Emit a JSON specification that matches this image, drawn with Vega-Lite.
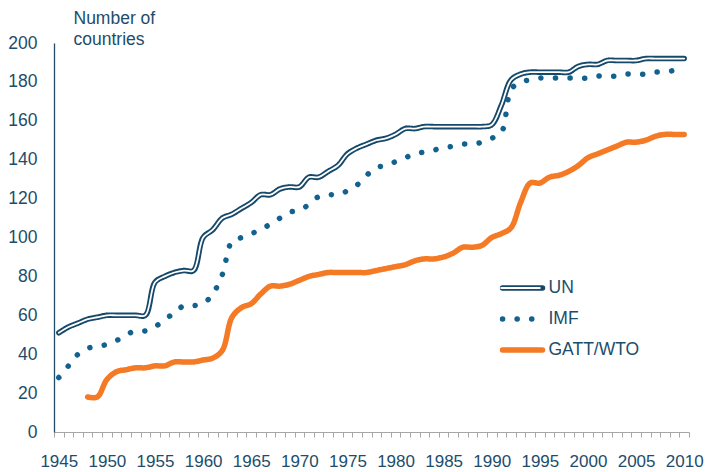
{
  "$schema": "https://vega.github.io/schema/vega-lite/v6.json",
  "width": 635,
  "height": 389,
  "autosize": {"type": "none"},
  "padding": {"left": 54, "top": 43, "right": 16, "bottom": 40},
  "background": "white",
  "config": {
    "view": {"stroke": null},
    "font": "Liberation Sans",
    "legend": {"padding": 0}
  },
  "datasets": {
    "members": [
      {"year":1945,"series":"UN","value":51},{"year":1946,"series":"UN","value":54},{"year":1947,"series":"UN","value":56},{"year":1948,"series":"UN","value":58},{"year":1949,"series":"UN","value":59},
      {"year":1950,"series":"UN","value":60},{"year":1951,"series":"UN","value":60},{"year":1952,"series":"UN","value":60},{"year":1953,"series":"UN","value":60},{"year":1954,"series":"UN","value":60},
      {"year":1955,"series":"UN","value":77},{"year":1956,"series":"UN","value":80},{"year":1957,"series":"UN","value":82},{"year":1958,"series":"UN","value":83},{"year":1959,"series":"UN","value":83},
      {"year":1960,"series":"UN","value":100},{"year":1961,"series":"UN","value":104},{"year":1962,"series":"UN","value":110},{"year":1963,"series":"UN","value":112},{"year":1964,"series":"UN","value":115},
      {"year":1965,"series":"UN","value":118},{"year":1966,"series":"UN","value":122},{"year":1967,"series":"UN","value":122},{"year":1968,"series":"UN","value":125},{"year":1969,"series":"UN","value":126},
      {"year":1970,"series":"UN","value":126},{"year":1971,"series":"UN","value":131},{"year":1972,"series":"UN","value":131},{"year":1973,"series":"UN","value":134},{"year":1974,"series":"UN","value":137},
      {"year":1975,"series":"UN","value":143},{"year":1976,"series":"UN","value":146},{"year":1977,"series":"UN","value":148},{"year":1978,"series":"UN","value":150},{"year":1979,"series":"UN","value":151},
      {"year":1980,"series":"UN","value":153},{"year":1981,"series":"UN","value":156},{"year":1982,"series":"UN","value":156},{"year":1983,"series":"UN","value":157},{"year":1984,"series":"UN","value":157},
      {"year":1985,"series":"UN","value":157},{"year":1986,"series":"UN","value":157},{"year":1987,"series":"UN","value":157},{"year":1988,"series":"UN","value":157},{"year":1989,"series":"UN","value":157},
      {"year":1990,"series":"UN","value":158},{"year":1991,"series":"UN","value":168},{"year":1992,"series":"UN","value":181},{"year":1993,"series":"UN","value":184},{"year":1994,"series":"UN","value":185},
      {"year":1995,"series":"UN","value":185},{"year":1996,"series":"UN","value":185},{"year":1997,"series":"UN","value":185},{"year":1998,"series":"UN","value":185},{"year":1999,"series":"UN","value":188},
      {"year":2000,"series":"UN","value":189},{"year":2001,"series":"UN","value":189},{"year":2002,"series":"UN","value":191},{"year":2003,"series":"UN","value":191},{"year":2004,"series":"UN","value":191},
      {"year":2005,"series":"UN","value":191},{"year":2006,"series":"UN","value":192},{"year":2007,"series":"UN","value":192},{"year":2008,"series":"UN","value":192},{"year":2009,"series":"UN","value":192},
      {"year":2010,"series":"UN","value":192},

      {"year":1945,"series":"IMF","value":28},{"year":1946,"series":"IMF","value":34},{"year":1947,"series":"IMF","value":40},{"year":1948,"series":"IMF","value":43},{"year":1949,"series":"IMF","value":44},
      {"year":1950,"series":"IMF","value":45},{"year":1951,"series":"IMF","value":47},{"year":1952,"series":"IMF","value":50},{"year":1953,"series":"IMF","value":52},{"year":1954,"series":"IMF","value":52},
      {"year":1955,"series":"IMF","value":54},{"year":1956,"series":"IMF","value":58},{"year":1957,"series":"IMF","value":61},{"year":1958,"series":"IMF","value":65},{"year":1959,"series":"IMF","value":65},
      {"year":1960,"series":"IMF","value":66},{"year":1961,"series":"IMF","value":71},{"year":1962,"series":"IMF","value":81},{"year":1963,"series":"IMF","value":98},{"year":1964,"series":"IMF","value":100},
      {"year":1965,"series":"IMF","value":102},{"year":1966,"series":"IMF","value":104},{"year":1967,"series":"IMF","value":107},{"year":1968,"series":"IMF","value":110},{"year":1969,"series":"IMF","value":113},
      {"year":1970,"series":"IMF","value":114},{"year":1971,"series":"IMF","value":117},{"year":1972,"series":"IMF","value":121},{"year":1973,"series":"IMF","value":122},{"year":1974,"series":"IMF","value":122},
      {"year":1975,"series":"IMF","value":124},{"year":1976,"series":"IMF","value":127},{"year":1977,"series":"IMF","value":132},{"year":1978,"series":"IMF","value":136},{"year":1979,"series":"IMF","value":137},
      {"year":1980,"series":"IMF","value":139},{"year":1981,"series":"IMF","value":141},{"year":1982,"series":"IMF","value":143},{"year":1983,"series":"IMF","value":144},{"year":1984,"series":"IMF","value":145},
      {"year":1985,"series":"IMF","value":146},{"year":1986,"series":"IMF","value":147},{"year":1987,"series":"IMF","value":148},{"year":1988,"series":"IMF","value":148},{"year":1989,"series":"IMF","value":149},
      {"year":1990,"series":"IMF","value":151},{"year":1991,"series":"IMF","value":154},{"year":1992,"series":"IMF","value":176},{"year":1993,"series":"IMF","value":180},{"year":1994,"series":"IMF","value":181},
      {"year":1995,"series":"IMF","value":182},{"year":1996,"series":"IMF","value":182},{"year":1997,"series":"IMF","value":182},{"year":1998,"series":"IMF","value":182},{"year":1999,"series":"IMF","value":182},
      {"year":2000,"series":"IMF","value":182},{"year":2001,"series":"IMF","value":183},{"year":2002,"series":"IMF","value":183},{"year":2003,"series":"IMF","value":183},{"year":2004,"series":"IMF","value":184},
      {"year":2005,"series":"IMF","value":184},{"year":2006,"series":"IMF","value":184},{"year":2007,"series":"IMF","value":185},{"year":2008,"series":"IMF","value":185},{"year":2009,"series":"IMF","value":186},

      {"year":1948,"series":"GATT/WTO","value":18},{"year":1949,"series":"GATT/WTO","value":18},
      {"year":1950,"series":"GATT/WTO","value":27},{"year":1951,"series":"GATT/WTO","value":31},{"year":1952,"series":"GATT/WTO","value":32},{"year":1953,"series":"GATT/WTO","value":33},{"year":1954,"series":"GATT/WTO","value":33},
      {"year":1955,"series":"GATT/WTO","value":34},{"year":1956,"series":"GATT/WTO","value":34},{"year":1957,"series":"GATT/WTO","value":36},{"year":1958,"series":"GATT/WTO","value":36},{"year":1959,"series":"GATT/WTO","value":36},
      {"year":1960,"series":"GATT/WTO","value":37},{"year":1961,"series":"GATT/WTO","value":38},{"year":1962,"series":"GATT/WTO","value":42},{"year":1963,"series":"GATT/WTO","value":59},{"year":1964,"series":"GATT/WTO","value":64},
      {"year":1965,"series":"GATT/WTO","value":66},{"year":1966,"series":"GATT/WTO","value":71},{"year":1967,"series":"GATT/WTO","value":75},{"year":1968,"series":"GATT/WTO","value":75},{"year":1969,"series":"GATT/WTO","value":76},
      {"year":1970,"series":"GATT/WTO","value":78},{"year":1971,"series":"GATT/WTO","value":80},{"year":1972,"series":"GATT/WTO","value":81},{"year":1973,"series":"GATT/WTO","value":82},{"year":1974,"series":"GATT/WTO","value":82},
      {"year":1975,"series":"GATT/WTO","value":82},{"year":1976,"series":"GATT/WTO","value":82},{"year":1977,"series":"GATT/WTO","value":82},{"year":1978,"series":"GATT/WTO","value":83},{"year":1979,"series":"GATT/WTO","value":84},
      {"year":1980,"series":"GATT/WTO","value":85},{"year":1981,"series":"GATT/WTO","value":86},{"year":1982,"series":"GATT/WTO","value":88},{"year":1983,"series":"GATT/WTO","value":89},{"year":1984,"series":"GATT/WTO","value":89},
      {"year":1985,"series":"GATT/WTO","value":90},{"year":1986,"series":"GATT/WTO","value":92},{"year":1987,"series":"GATT/WTO","value":95},{"year":1988,"series":"GATT/WTO","value":95},{"year":1989,"series":"GATT/WTO","value":96},
      {"year":1990,"series":"GATT/WTO","value":100},{"year":1991,"series":"GATT/WTO","value":102},{"year":1992,"series":"GATT/WTO","value":105},{"year":1993,"series":"GATT/WTO","value":118},{"year":1994,"series":"GATT/WTO","value":128},
      {"year":1995,"series":"GATT/WTO","value":128},{"year":1996,"series":"GATT/WTO","value":131},{"year":1997,"series":"GATT/WTO","value":132},{"year":1998,"series":"GATT/WTO","value":134},{"year":1999,"series":"GATT/WTO","value":137},
      {"year":2000,"series":"GATT/WTO","value":141},{"year":2001,"series":"GATT/WTO","value":143},{"year":2002,"series":"GATT/WTO","value":145},{"year":2003,"series":"GATT/WTO","value":147},{"year":2004,"series":"GATT/WTO","value":149},
      {"year":2005,"series":"GATT/WTO","value":149},{"year":2006,"series":"GATT/WTO","value":150},{"year":2007,"series":"GATT/WTO","value":152},{"year":2008,"series":"GATT/WTO","value":153},{"year":2009,"series":"GATT/WTO","value":153},
      {"year":2010,"series":"GATT/WTO","value":153}
    ]
  },
  "data": {"name": "members"},
  "encoding": {
    "x": {
      "field": "year", "type": "quantitative",
      "scale": {"domain": [1944.5, 2010.5], "nice": false, "zero": false},
      "axis": {
        "title": null, "grid": false,
        "values": [1944.5,1945.5,1946.5,1947.5,1948.5,1949.5,1950.5,1951.5,1952.5,1953.5,1954.5,1955.5,1956.5,1957.5,1958.5,1959.5,1960.5,1961.5,1962.5,1963.5,1964.5,1965.5,1966.5,1967.5,1968.5,1969.5,1970.5,1971.5,1972.5,1973.5,1974.5,1975.5,1976.5,1977.5,1978.5,1979.5,1980.5,1981.5,1982.5,1983.5,1984.5,1985.5,1986.5,1987.5,1988.5,1989.5,1990.5,1991.5,1992.5,1993.5,1994.5,1995.5,1996.5,1997.5,1998.5,1999.5,2000.5,2001.5,2002.5,2003.5,2004.5,2005.5,2006.5,2007.5,2008.5,2009.5,2010.5],
        "labelExpr": "((datum.value - 0.5) % 5 == 0) ? '' + (datum.value - 0.5) : ''",
        "labelOffset": -4.81,
        "labelFlush": false, "labelOverlap": false, "labelBound": false,
        "tickSize": 5, "tickColor": "#a6a6a6", "domainColor": "#a6a6a6",
        "labelPadding": 16, "labelFontSize": 17, "labelColor": "#1d4d6b"
      }
    },
    "y": {
      "field": "value", "type": "quantitative",
      "scale": {"domain": [0, 200], "nice": false},
      "axis": {
        "values": [0,20,40,60,80,100,120,140,160,180,200],
        "grid": false, "ticks": false, "labelOverlap": false,
        "domainColor": "#1d4d6b", "domainWidth": 1.3,
        "labelPadding": 17, "labelFontSize": 17.5, "labelColor": "#1d4d6b", "labelFlush": false,
        "title": ["Number of", "countries"],
        "titleAngle": 0, "titleAlign": "left", "titleBaseline": "alphabetic",
        "titleX": 19, "titleY": -20, "titleLineHeight": 21,
        "titleFontSize": 17.5, "titleFontWeight": "normal", "titleColor": "#1d4d6b"
      }
    }
  },
  "layer": [
    {
      "mark": {"type": "line", "interpolate": "catmull-rom", "strokeWidth": 5.5, "strokeCap": "round", "strokeJoin": "round"},
      "encoding": {
        "color": {
          "field": "series", "type": "nominal",
          "scale": {"domain": ["UN", "IMF", "GATT/WTO"], "range": ["#16486a", "#12618e", "#f47a25"]},
          "legend": {
            "title": null, "orient": "none", "legendX": 445.5, "legendY": 235,
            "symbolType": "stroke", "symbolSize": 1600, "symbolStrokeWidth": 5.5,
            "clipHeight": 20, "rowPadding": 11, "labelOffset": 3,
            "labelFontSize": 17.5, "labelColor": "#1d4d6b", "zindex": 1,
            "encoding": {"symbols": {"strokeCap": {"value": "round"}, "strokeDash": {"signal": "datum.value == 'IMF' ? [0.1, 8.2] : [1, 0]"}}}
          }
        },
        "strokeDash": {
          "field": "series", "type": "nominal",
          "scale": {"domain": ["UN", "IMF", "GATT/WTO"], "range": [[1, 0], [0.1, 14.5], [1, 0]]},
          "legend": {
            "title": null, "orient": "none", "legendX": 445.5, "legendY": 235,
            "symbolType": "stroke", "symbolSize": 1600, "symbolStrokeWidth": 5.5,
            "clipHeight": 20, "rowPadding": 11, "labelOffset": 3,
            "labelFontSize": 17.5, "labelColor": "#1d4d6b", "zindex": 1,
            "encoding": {"symbols": {"strokeCap": {"value": "round"}, "strokeDash": {"signal": "datum.value == 'IMF' ? [0.1, 8.2] : [1, 0]"}}}
          }
        }
      }
    },
    {
      "transform": [{"filter": "datum.series == 'UN'"}],
      "mark": {"type": "line", "interpolate": "catmull-rom", "strokeWidth": 1.8, "strokeCap": "round", "strokeJoin": "round"},
      "encoding": {
        "stroke": {
          "field": "series", "type": "nominal",
          "scale": {"domain": ["UN"], "range": ["#ffffff"]},
          "legend": {
            "title": null, "orient": "none", "legendX": 445.5, "legendY": 235,
            "symbolType": "stroke", "symbolSize": 1600, "symbolStrokeWidth": 1.8,
            "clipHeight": 20, "rowPadding": 11, "labelOffset": 3,
            "labelFontSize": 17.5, "labelColor": "transparent", "labelExpr": "''", "zindex": 5
          }
        }
      }
    }
  ]
}
